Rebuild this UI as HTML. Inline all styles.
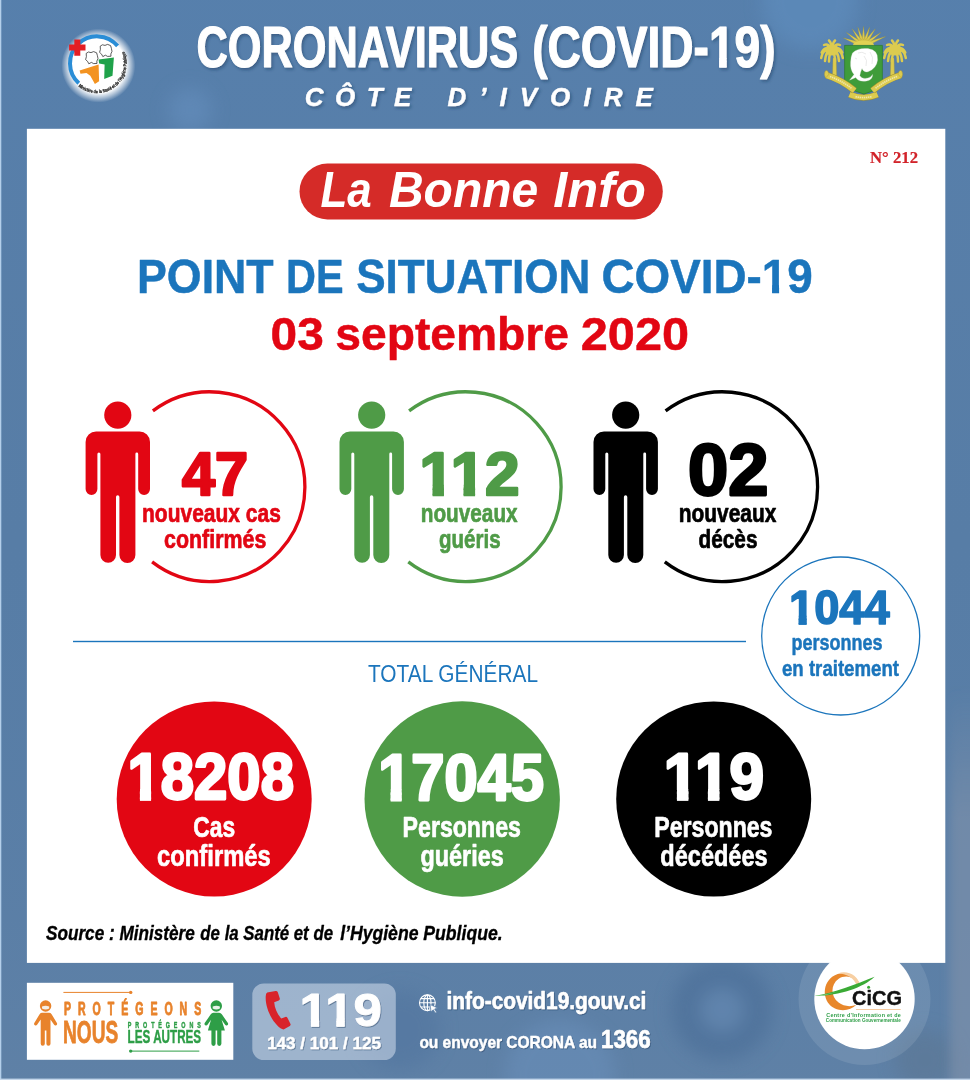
<!DOCTYPE html>
<html lang="fr">
<head>
<meta charset="utf-8">
<title>Coronavirus (COVID-19) – Côte d’Ivoire – Point de situation</title>
<style>
html,body{margin:0;padding:0;background:#577da6;}
body{width:970px;height:1080px;overflow:hidden;font-family:"Liberation Sans", "DejaVu Sans", sans-serif;}
svg{display:block;}
text{white-space:pre;}
</style>
</head>
<body>
<svg width="970" height="1080" viewBox="0 0 970 1080">
<defs>
<linearGradient id="bgv" x1="0" y1="0" x2="0" y2="1">
<stop offset="0" stop-color="#5681b0" stop-opacity="0.6"/>
<stop offset="0.5" stop-color="#5a80ab" stop-opacity="0"/>
<stop offset="1" stop-color="#6684a6" stop-opacity="0.5"/>
</linearGradient>
<linearGradient id="rgm" x1="0" y1="0" x2="0" y2="1">
<stop offset="0" stop-color="#8393aa" stop-opacity="0"/>
<stop offset="0.3" stop-color="#8393aa" stop-opacity="0.55"/>
<stop offset="1" stop-color="#8393aa" stop-opacity="0.55"/>
</linearGradient>
<radialGradient id="glow">
<stop offset="0" stop-color="#ffffff"/>
<stop offset="0.74" stop-color="#ffffff"/>
<stop offset="0.86" stop-color="#ffffff" stop-opacity="0.55"/>
<stop offset="1" stop-color="#ffffff" stop-opacity="0"/>
</radialGradient>
<filter id="ts" x="-5%" y="-20%" width="110%" height="150%">
<feDropShadow dx="1.5" dy="2" stdDeviation="1.5" flood-color="#1d3557" flood-opacity="0.45"/>
</filter>
<filter id="ts2" x="-5%" y="-20%" width="110%" height="150%">
<feDropShadow dx="0.8" dy="1" stdDeviation="0.6" flood-color="#1d3557" flood-opacity="0.45"/>
</filter>
<clipPath id="cf0"><path clip-rule="evenodd" d="M0 0H970V1080H0Z M710.25 58.9H719.15V68.5H710.25Z M726.6 58.9H734.75V68.5H726.6Z"/></clipPath>
<clipPath id="cf1"><path clip-rule="evenodd" d="M0 0H970V1080H0Z M763.5 286.15H772.15V294.0H763.5Z M779.1 286.15H787.25V294.0H779.1Z"/></clipPath>
<clipPath id="cf2"><path clip-rule="evenodd" d="M0 0H970V1080H0Z M421.25 485.65H432.65V497.0H421.25Z M443.85 485.65H453.25V497.0H443.85Z M453.25 485.65H463.65V497.0H453.25Z M475.1 485.65H485.75V497.0H475.1Z"/></clipPath>
<clipPath id="cf3"><path clip-rule="evenodd" d="M0 0H970V1080H0Z M790.0 616.65H798.65V625.75H790.0Z M806.6 616.65H814.75V625.75H806.6Z"/></clipPath>
<clipPath id="cf4"><path clip-rule="evenodd" d="M0 0H970V1080H0Z M129.0 789.9H139.9V801.75H129.0Z M151.1 789.9H161.25V801.75H151.1Z"/></clipPath>
<clipPath id="cf5"><path clip-rule="evenodd" d="M0 0H970V1080H0Z M379.5 790.15H390.65V802.0H379.5Z M401.6 790.15H412.0V802.0H401.6Z"/></clipPath>
<clipPath id="cf6"><path clip-rule="evenodd" d="M0 0H970V1080H0Z M665.25 789.9H676.9V801.75H665.25Z M688.35 789.9H697.6V801.75H688.35Z M697.6 789.9H707.9V801.75H697.6Z M719.35 789.9H730.0V801.75H719.35Z"/></clipPath>
<clipPath id="cf7"><path clip-rule="evenodd" d="M0 0H970V1080H0Z M301.25 1019.4H310.9V1027.75H301.25Z M319.1 1019.4H326.9V1027.75H319.1Z M326.9 1019.4H336.4V1027.75H326.9Z M344.6 1019.4H353.5V1027.75H344.6Z"/></clipPath>
<filter id="blur5" x="-100%" y="-10%" width="300%" height="120%"><feGaussianBlur stdDeviation="5"/></filter>
<filter id="blur8" x="-50%" y="-50%" width="200%" height="200%"><feGaussianBlur stdDeviation="9"/></filter>
</defs>
<rect width="970" height="1080" fill="#577da6"/>
<rect width="970" height="1080" fill="url(#bgv)"/>
<g filter="url(#blur8)" opacity="0.55"><circle cx="722" cy="1010" r="50" fill="#466a94"/><circle cx="722" cy="1010" r="22" fill="#6388b3"/><circle cx="560" cy="1075" r="55" fill="#6a90bb"/><circle cx="925" cy="1060" r="30" fill="#5c7692"/><circle cx="400" cy="1030" r="40" fill="#51759f"/><circle cx="190" cy="110" r="22" fill="#6690bf"/><circle cx="810" cy="2" r="48" fill="#6190c1"/></g>
<rect x="950" y="690" width="40" height="420" fill="url(#rgm)" filter="url(#blur5)"/>
<rect x="0" y="0" width="1.3" height="1080" fill="#b4cfea"/>
<rect x="0" y="1078.6" width="970" height="2" fill="#c4d6ea"/>
<rect x="26.9" y="128.8" width="918.4" height="834.1" fill="#ffffff"/>
<g filter="url(#ts)">
<text x="196.60" y="67.0" font-family='"Liberation Sans", "DejaVu Sans", sans-serif' font-size="57" font-weight="bold" font-style="normal" fill="#ffffff" textLength="321.62" lengthAdjust="spacingAndGlyphs" stroke="#ffffff" stroke-width="1.2" stroke-linejoin="round">CORONAVIRUS</text>
<g clip-path="url(#cf0)"><text x="532.19" y="67.0" font-family='"Liberation Sans", "DejaVu Sans", sans-serif' font-size="57" font-weight="bold" font-style="normal" fill="#ffffff" textLength="243.40" lengthAdjust="spacingAndGlyphs" stroke="#ffffff" stroke-width="1.2" stroke-linejoin="round">(COVID-19)</text></g><path d="M719.25 58.0H726.5V67.5H719.25Z" fill="#ffffff"/>
<text x="304.76" y="105.6" font-family='"Liberation Sans", "DejaVu Sans", sans-serif' font-size="26" font-weight="bold" font-style="italic" fill="#ffffff" textLength="106.64" lengthAdjust="spacing" stroke="#ffffff" stroke-width="0.4" stroke-linejoin="round">CÔTE</text>
<text x="447.40" y="105.6" font-family='"Liberation Sans", "DejaVu Sans", sans-serif' font-size="26" font-weight="bold" font-style="italic" fill="#ffffff" textLength="205.40" lengthAdjust="spacing" stroke="#ffffff" stroke-width="0.4" stroke-linejoin="round">D’IVOIRE</text>
</g>
<text x="870.00" y="163.0" font-family='"Liberation Serif", "DejaVu Serif", serif' font-size="17.3" font-weight="bold" font-style="normal" fill="#d2232a" textLength="48.01" lengthAdjust="spacingAndGlyphs" stroke="#d2232a" stroke-width="0.2" stroke-linejoin="round">N° 212</text>
<rect x="299.5" y="163.6" width="363.3" height="55.9" rx="27.95" fill="#d52b28"/>
<text x="320.40" y="207.1" font-family='"Liberation Sans", "DejaVu Sans", sans-serif' font-size="50" font-weight="bold" font-style="italic" fill="#ffffff" textLength="51.37" lengthAdjust="spacingAndGlyphs">La</text>
<text x="388.93" y="207.1" font-family='"Liberation Sans", "DejaVu Sans", sans-serif' font-size="50" font-weight="bold" font-style="italic" fill="#ffffff" textLength="149.29" lengthAdjust="spacingAndGlyphs">Bonne</text>
<text x="553.34" y="207.1" font-family='"Liberation Sans", "DejaVu Sans", sans-serif' font-size="50" font-weight="bold" font-style="italic" fill="#ffffff" textLength="92.62" lengthAdjust="spacingAndGlyphs">Info</text>
<text x="137.05" y="292.7" font-family='"Liberation Sans", "DejaVu Sans", sans-serif' font-size="48" font-weight="bold" font-style="normal" fill="#1b75bc" textLength="136.60" lengthAdjust="spacingAndGlyphs" stroke="#1b75bc" stroke-width="0.5" stroke-linejoin="round">POINT</text>
<text x="286.00" y="292.7" font-family='"Liberation Sans", "DejaVu Sans", sans-serif' font-size="48" font-weight="bold" font-style="normal" fill="#1b75bc" textLength="57.59" lengthAdjust="spacingAndGlyphs" stroke="#1b75bc" stroke-width="0.5" stroke-linejoin="round">DE</text>
<text x="356.20" y="292.7" font-family='"Liberation Sans", "DejaVu Sans", sans-serif' font-size="48" font-weight="bold" font-style="normal" fill="#1b75bc" textLength="234.24" lengthAdjust="spacingAndGlyphs" stroke="#1b75bc" stroke-width="0.5" stroke-linejoin="round">SITUATION</text>
<g clip-path="url(#cf1)"><text x="601.42" y="292.7" font-family='"Liberation Sans", "DejaVu Sans", sans-serif' font-size="48" font-weight="bold" font-style="normal" fill="#1b75bc" textLength="211.42" lengthAdjust="spacingAndGlyphs" stroke="#1b75bc" stroke-width="0.5" stroke-linejoin="round">COVID-19</text></g><path d="M772.25 285.25H779.0V293.0H772.25Z" fill="#1b75bc"/>
<text x="270.60" y="349.5" font-family='"Liberation Sans", "DejaVu Sans", sans-serif' font-size="46" font-weight="bold" font-style="normal" fill="#e20613" textLength="53.18" lengthAdjust="spacingAndGlyphs" stroke="#e20613" stroke-width="0.5" stroke-linejoin="round">03</text>
<text x="335.28" y="349.5" font-family='"Liberation Sans", "DejaVu Sans", sans-serif' font-size="46" font-weight="bold" font-style="normal" fill="#e20613" textLength="233.75" lengthAdjust="spacingAndGlyphs" stroke="#e20613" stroke-width="0.5" stroke-linejoin="round">septembre</text>
<text x="580.80" y="349.5" font-family='"Liberation Sans", "DejaVu Sans", sans-serif' font-size="46" font-weight="bold" font-style="normal" fill="#e20613" textLength="108.23" lengthAdjust="spacingAndGlyphs" stroke="#e20613" stroke-width="0.5" stroke-linejoin="round">2020</text>
<circle cx="98.4" cy="65.6" r="37" fill="url(#glow)"/>
<path d="M117.6 45.9 A27 27 0 1 0 78.8 83.3" fill="none" stroke="#2a8dd6" stroke-width="4.0" />
<path d="M74.3 39.4h6v5.2h5.2v6h-5.2v5.2h-6v-5.2h-5.2v-6h5.2z" fill="#e31e24"/>
<path d="M79.6 70.6 L98.6 64.5 L99.1 81.2 L94.9 84 L90.3 75.7 L86.5 72.9 L80.5 73.8 Z" fill="#f39321"/>
<path d="M98.6 59.4 L113.9 57.6 L112.5 75.7 L104.2 78.9 L104.6 64.5 L99.1 63.6 Z" fill="#1fa24a"/>
<path d="M86.2 53.4 L88.4 52 L91 52.6 L93.6 51.6 L96.6 52.8 L97.4 55.6 L98 58.6 L96.8 61.2 L97 63.4 L93.6 63.6 L91.4 62.4 L88.8 63.8 L87.6 61.4 L85.6 59.6 L86.4 56.6 Z" fill="#ffffff" stroke="#1a1a1a" stroke-width="0.7" stroke-linejoin="round"/>
<path d="M86.2 53.4 L88.4 52 L91 52.6 L93.6 51.6 L96.6 52.8 L97.4 55.6 L98 58.6 L96.8 61.2 L97 63.4 L93.6 63.6 L91.4 62.4 L88.8 63.8 L87.6 61.4 L85.6 59.6 L86.4 56.6 Z" transform="translate(14 -7.2)" fill="#ffffff" stroke="#1a1a1a" stroke-width="0.7" stroke-linejoin="round"/>
<path id="mtp" d="M78.2 86.3 A29.6 29.6 0 0 0 121.4 46.6" fill="none"/>
<text font-family='"Liberation Sans", "DejaVu Sans", sans-serif' font-size="4.7" font-weight="bold" fill="#111" stroke="#111" stroke-width="0.2"><textPath href="#mtp" textLength="79" lengthAdjust="spacingAndGlyphs">Ministère de la Santé et de l’Hygiène Publique</textPath></text>
<path d="M857.8 41.5 L843.4 38.0 L856.6 44.7 Z M860.4 40.9 L846.4 32.4 L858.3 43.6 Z M862.5 40.9 L852.1 28.8 L859.7 42.8 Z M864.0 41.2 L857.8 27.2 L860.7 42.3 Z M865.2 41.7 L863.5 26.4 L861.8 41.7 Z M866.3 42.3 L869.6 27.2 L863.1 41.2 Z M867.4 42.9 L875.3 28.8 L864.6 40.9 Z M868.7 43.6 L881.0 32.4 L866.7 40.9 Z M870.2 44.5 L885.6 36.5 L869.0 41.4 Z" fill="#dccb4f" stroke="#a39130" stroke-width="0.3"/>
<path d="M852.8 45.6 A10.7 5.4 0 0 1 874.2 45.6 Z" fill="#e2d153"/>
<path d="M833.0 58 L836.2 58 L836.7 77 L832.5 77 Z" fill="#dccb4f" stroke="#a39130" stroke-width="0.35"/>
<path d="M832 51 Q823.5 47.0 821.2 58.0 M832 51 Q825.5 44.5 821.7 52.5 M832 51 Q829.0 42.5 824.0 45.0 M832 51 Q832.0 43.5 829.0 40.5 M832 51 Q832.0 43.5 835.0 40.5 M832 51 Q835.0 42.5 840.0 45.0 M832 51 Q838.5 44.5 842.3 52.5 M832 51 Q840.5 47.0 842.8 58.0 M832 51 Q825.5 51.0 825.0 61.0 M832 51 Q838.5 51.0 839.0 61.0 M832 51 Q829.0 53.0 829.0 61.5 M832 51 Q835.0 53.0 835.0 61.5" fill="none" stroke="#dccb4f" stroke-width="2.5" stroke-linecap="round"/>
<ellipse cx="832" cy="50" rx="7" ry="5.5" fill="#dccb4f"/>
<path d="M890.8 58 L894.0 58 L894.5 77 L890.3 77 Z" fill="#dccb4f" stroke="#a39130" stroke-width="0.35"/>
<path d="M895 51 Q886.5 47.0 884.2 58.0 M895 51 Q888.5 44.5 884.7 52.5 M895 51 Q892.0 42.5 887.0 45.0 M895 51 Q895.0 43.5 892.0 40.5 M895 51 Q895.0 43.5 898.0 40.5 M895 51 Q898.0 42.5 903.0 45.0 M895 51 Q901.5 44.5 905.3 52.5 M895 51 Q903.5 47.0 905.8 58.0 M895 51 Q888.5 51.0 888.0 61.0 M895 51 Q901.5 51.0 902.0 61.0 M895 51 Q892.0 53.0 892.0 61.5 M895 51 Q898.0 53.0 898.0 61.5" fill="none" stroke="#dccb4f" stroke-width="2.5" stroke-linecap="round"/>
<ellipse cx="895" cy="50" rx="7" ry="5.5" fill="#dccb4f"/>
<g fill="none" stroke-linecap="butt"><path d="M849.5 94.6 Q863.5 100.6 877.5 94.6" stroke="#a39130" stroke-width="6.4"/><path d="M849.5 94.6 Q863.5 100.6 877.5 94.6" stroke="#dccb4f" stroke-width="5.4"/><path d="M855.5 96.6 Q863.5 98.6 871.5 96.6" stroke="#efe6ad" stroke-width="1.6" stroke-dasharray="1.4 0.7"/></g>
<path d="M844.6 45.4 H882.4 V84 Q882 88.5 864 94 Q845 88.5 844.6 84 Z" fill="#3f9c3a" stroke="#2d7a2c" stroke-width="0.7"/>
<g fill="none" stroke-linecap="butt"><path d="M826.4 75.2 Q841 79.5 854.6 90.6" stroke="#a39130" stroke-width="6.6"/><path d="M826.4 75.2 Q841 79.5 854.6 90.6" stroke="#dccb4f" stroke-width="5.6"/><path d="M900.6 75.2 Q886 79.5 872.4 90.6" stroke="#a39130" stroke-width="6.6"/><path d="M900.6 75.2 Q886 79.5 872.4 90.6" stroke="#dccb4f" stroke-width="5.6"/><path d="M830 76.6 Q841.5 80.6 851.5 88.2 M897 76.6 Q885.5 80.6 875.5 88.2" stroke="#efe6ad" stroke-width="1.6" stroke-dasharray="1.4 0.7"/></g>
<path d="M825.6 78 Q823.4 74.5 825.2 71 Q826.6 69.6 828 71.4 L829 74.2 Z M901.4 78 Q903.6 74.5 901.8 71 Q900.4 69.6 899 71.4 L898 74.2 Z" fill="#dccb4f" stroke="#a39130" stroke-width="0.4"/>
<path d="M852.5 53 Q858 47.5 868 48.6 Q878.5 50 877.6 60 Q876.6 68.5 868 71.8 Q863.5 72.5 862 68.5 Q860.5 72 859.8 75.5 Q862 79.5 868 78 Q871.5 76.8 872.6 74.4 Q872.8 79.5 866.6 81 Q858 82 855.8 77.5 L849.5 80.2 L854 74.5 Q850 70 850.6 62 Q850.8 56.5 852.5 53 Z" fill="#ffffff" stroke="#d8d8d8" stroke-width="0.3"/>
<path d="M858 53 Q862 51 866 54 M864 56 Q868 60 866 66 M870 52 Q874 57 872 64 M855 58 L857 59" fill="none" stroke="#c9c9c9" stroke-width="0.4"/>
<g fill="#e20613" transform="translate(0 0)"><circle cx="117.8" cy="415.1" r="13.6"/><path d="M96.1 431.5 H139.5 A10.5 10.5 0 0 1 150 442 V489 A5.9 5.9 0 0 1 138.2 489 V454 A1.4 1.4 0 0 0 135.4 454 V555 A8 8 0 0 1 119.4 555 V497 A1.7 1.7 0 0 0 116 497 V555 A7.8 7.8 0 0 1 100.4 555 V454 A1.5 1.5 0 0 0 97.4 454 V489 A5.9 5.9 0 0 1 85.6 489 V442 A10.5 10.5 0 0 1 96.1 431.5 Z"/></g>
<g fill="#4f9b47" transform="translate(253.9 0)"><circle cx="117.8" cy="415.1" r="13.6"/><path d="M96.1 431.5 H139.5 A10.5 10.5 0 0 1 150 442 V489 A5.9 5.9 0 0 1 138.2 489 V454 A1.4 1.4 0 0 0 135.4 454 V555 A8 8 0 0 1 119.4 555 V497 A1.7 1.7 0 0 0 116 497 V555 A7.8 7.8 0 0 1 100.4 555 V454 A1.5 1.5 0 0 0 97.4 454 V489 A5.9 5.9 0 0 1 85.6 489 V442 A10.5 10.5 0 0 1 96.1 431.5 Z"/></g>
<g fill="#000000" transform="translate(507.9 0)"><circle cx="117.8" cy="415.1" r="13.6"/><path d="M96.1 431.5 H139.5 A10.5 10.5 0 0 1 150 442 V489 A5.9 5.9 0 0 1 138.2 489 V454 A1.4 1.4 0 0 0 135.4 454 V555 A8 8 0 0 1 119.4 555 V497 A1.7 1.7 0 0 0 116 497 V555 A7.8 7.8 0 0 1 100.4 555 V454 A1.5 1.5 0 0 0 97.4 454 V489 A5.9 5.9 0 0 1 85.6 489 V442 A10.5 10.5 0 0 1 96.1 431.5 Z"/></g>
<path d="M152.9 410.9 A94.9 94.9 0 1 1 152.1 561.9" fill="none" stroke="#e20613" stroke-width="3.3" />
<path d="M409.1 410.9 A94.9 94.9 0 1 1 408.3 561.9" fill="none" stroke="#4f9b47" stroke-width="3.3" />
<path d="M665.6 410.9 A94.9 94.9 0 1 1 664.8 561.9" fill="none" stroke="#000000" stroke-width="3.3" />
<text x="181.90" y="494.7" font-family='"Liberation Sans", "DejaVu Sans", sans-serif' font-size="61.6" font-weight="bold" font-style="normal" fill="#e20613" textLength="66.10" lengthAdjust="spacingAndGlyphs" stroke="#e20613" stroke-width="2.6" stroke-linejoin="round">47</text>
<text x="142.00" y="521.7" font-family='"Liberation Sans", "DejaVu Sans", sans-serif' font-size="26" font-weight="bold" font-style="normal" fill="#e20613" textLength="138.81" lengthAdjust="spacingAndGlyphs" stroke="#e20613" stroke-width="0.7" stroke-linejoin="round">nouveaux cas</text>
<text x="164.09" y="547.9" font-family='"Liberation Sans", "DejaVu Sans", sans-serif' font-size="26" font-weight="bold" font-style="normal" fill="#e20613" textLength="102.23" lengthAdjust="spacingAndGlyphs" stroke="#e20613" stroke-width="0.7" stroke-linejoin="round">confirmés</text>
<g clip-path="url(#cf2)"><text x="419.60" y="494.7" font-family='"Liberation Sans", "DejaVu Sans", sans-serif' font-size="61.6" font-weight="bold" font-style="normal" fill="#4f9b47" textLength="100.00" lengthAdjust="spacingAndGlyphs" stroke="#4f9b47" stroke-width="2.6" stroke-linejoin="round">112</text></g><path d="M432.75 484.75H443.75V496.0H432.75Z M463.75 484.75H475.0V496.0H463.75Z" fill="#4f9b47"/>
<text x="420.75" y="521.7" font-family='"Liberation Sans", "DejaVu Sans", sans-serif' font-size="26" font-weight="bold" font-style="normal" fill="#4f9b47" textLength="96.86" lengthAdjust="spacingAndGlyphs" stroke="#4f9b47" stroke-width="0.7" stroke-linejoin="round">nouveaux</text>
<text x="439.06" y="547.6" font-family='"Liberation Sans", "DejaVu Sans", sans-serif' font-size="26" font-weight="bold" font-style="normal" fill="#4f9b47" textLength="61.48" lengthAdjust="spacingAndGlyphs" stroke="#4f9b47" stroke-width="0.7" stroke-linejoin="round">guéris</text>
<text x="688.04" y="495.1" font-family='"Liberation Sans", "DejaVu Sans", sans-serif' font-size="72" font-weight="bold" font-style="normal" fill="#000000" textLength="80.40" lengthAdjust="spacingAndGlyphs" stroke="#000000" stroke-width="2.8" stroke-linejoin="round">02</text>
<text x="678.80" y="521.7" font-family='"Liberation Sans", "DejaVu Sans", sans-serif' font-size="26" font-weight="bold" font-style="normal" fill="#000000" textLength="97.56" lengthAdjust="spacingAndGlyphs" stroke="#000000" stroke-width="0.7" stroke-linejoin="round">nouveaux</text>
<text x="698.57" y="547.9" font-family='"Liberation Sans", "DejaVu Sans", sans-serif' font-size="26" font-weight="bold" font-style="normal" fill="#000000" textLength="58.87" lengthAdjust="spacingAndGlyphs" stroke="#000000" stroke-width="0.7" stroke-linejoin="round">décès</text>
<rect x="73" y="640.8" width="673" height="1.4" fill="#1b75bc"/>
<text x="368.00" y="682.0" font-family='"Liberation Sans", "DejaVu Sans", sans-serif' font-size="24.7" font-weight="normal" font-style="normal" fill="#1b75bc" textLength="170.00" lengthAdjust="spacingAndGlyphs">TOTAL GÉNÉRAL</text>
<circle cx="840.7" cy="636" r="79" fill="#ffffff" stroke="#1b75bc" stroke-width="1.3"/>
<g clip-path="url(#cf3)"><text x="789.00" y="624.0" font-family='"Liberation Sans", "DejaVu Sans", sans-serif' font-size="47.8" font-weight="bold" font-style="normal" fill="#1b75bc" textLength="100.70" lengthAdjust="spacingAndGlyphs" stroke="#1b75bc" stroke-width="1.6" stroke-linejoin="round">1044</text></g><path d="M798.75 615.75H806.5V624.75H798.75Z" fill="#1b75bc"/>
<text x="791.50" y="650.3" font-family='"Liberation Sans", "DejaVu Sans", sans-serif' font-size="22.2" font-weight="bold" font-style="normal" fill="#1b75bc" textLength="90.96" lengthAdjust="spacingAndGlyphs" stroke="#1b75bc" stroke-width="0.5" stroke-linejoin="round">personnes</text>
<text x="782.00" y="676.4" font-family='"Liberation Sans", "DejaVu Sans", sans-serif' font-size="22.2" font-weight="bold" font-style="normal" fill="#1b75bc" textLength="117.00" lengthAdjust="spacingAndGlyphs" stroke="#1b75bc" stroke-width="0.5" stroke-linejoin="round">en traitement</text>
<circle cx="214.2" cy="799" r="97.5" fill="#e20613"/>
<circle cx="462.2" cy="799" r="97.7" fill="#4f9b47"/>
<circle cx="713.7" cy="799" r="97.5" fill="#000000"/>
<g clip-path="url(#cf4)"><text x="127.43" y="799.4" font-family='"Liberation Sans", "DejaVu Sans", sans-serif' font-size="64.2" font-weight="bold" font-style="normal" fill="#ffffff" textLength="166.52" lengthAdjust="spacingAndGlyphs" stroke="#ffffff" stroke-width="2.8" stroke-linejoin="round">18208</text></g><path d="M140.0 789.0H151.0V800.75H140.0Z" fill="#ffffff"/>
<text x="193.35" y="836.9" font-family='"Liberation Sans", "DejaVu Sans", sans-serif' font-size="29.5" font-weight="bold" font-style="normal" fill="#ffffff" textLength="41.82" lengthAdjust="spacingAndGlyphs" stroke="#ffffff" stroke-width="0.7" stroke-linejoin="round">Cas</text>
<text x="157.10" y="866.4" font-family='"Liberation Sans", "DejaVu Sans", sans-serif' font-size="29.5" font-weight="bold" font-style="normal" fill="#ffffff" textLength="113.66" lengthAdjust="spacingAndGlyphs" stroke="#ffffff" stroke-width="0.7" stroke-linejoin="round">confirmés</text>
<g clip-path="url(#cf5)"><text x="378.14" y="799.7" font-family='"Liberation Sans", "DejaVu Sans", sans-serif' font-size="64.2" font-weight="bold" font-style="normal" fill="#ffffff" textLength="165.81" lengthAdjust="spacingAndGlyphs" stroke="#ffffff" stroke-width="2.8" stroke-linejoin="round">17045</text></g><path d="M390.75 789.25H401.5V801.0H390.75Z" fill="#ffffff"/>
<text x="402.60" y="836.9" font-family='"Liberation Sans", "DejaVu Sans", sans-serif' font-size="29.5" font-weight="bold" font-style="normal" fill="#ffffff" textLength="118.26" lengthAdjust="spacingAndGlyphs" stroke="#ffffff" stroke-width="0.7" stroke-linejoin="round">Personnes</text>
<text x="420.46" y="866.2" font-family='"Liberation Sans", "DejaVu Sans", sans-serif' font-size="29.5" font-weight="bold" font-style="normal" fill="#ffffff" textLength="83.24" lengthAdjust="spacingAndGlyphs" stroke="#ffffff" stroke-width="0.7" stroke-linejoin="round">guéries</text>
<g clip-path="url(#cf6)"><text x="663.80" y="799.4" font-family='"Liberation Sans", "DejaVu Sans", sans-serif' font-size="64.2" font-weight="bold" font-style="normal" fill="#ffffff" textLength="100.10" lengthAdjust="spacingAndGlyphs" stroke="#ffffff" stroke-width="2.8" stroke-linejoin="round">119</text></g><path d="M677.0 789.0H688.25V800.75H677.0Z M708.0 789.0H719.25V800.75H708.0Z" fill="#ffffff"/>
<text x="654.36" y="836.6" font-family='"Liberation Sans", "DejaVu Sans", sans-serif' font-size="29.5" font-weight="bold" font-style="normal" fill="#ffffff" textLength="118.09" lengthAdjust="spacingAndGlyphs" stroke="#ffffff" stroke-width="0.7" stroke-linejoin="round">Personnes</text>
<text x="660.33" y="866.2" font-family='"Liberation Sans", "DejaVu Sans", sans-serif' font-size="29.5" font-weight="bold" font-style="normal" fill="#ffffff" textLength="107.32" lengthAdjust="spacingAndGlyphs" stroke="#ffffff" stroke-width="0.7" stroke-linejoin="round">décédées</text>
<text x="46.05" y="939.7" font-family='"Liberation Sans", "DejaVu Sans", sans-serif' font-size="19.5" font-weight="bold" font-style="italic" fill="#000000" textLength="148.70" lengthAdjust="spacingAndGlyphs" stroke="#000000" stroke-width="0.35" stroke-linejoin="round">Source : Ministère</text>
<text x="200.35" y="939.7" font-family='"Liberation Sans", "DejaVu Sans", sans-serif' font-size="19.5" font-weight="bold" font-style="italic" fill="#000000" textLength="132.65" lengthAdjust="spacingAndGlyphs" stroke="#000000" stroke-width="0.35" stroke-linejoin="round">de la Santé et de</text>
<text x="340.16" y="939.7" font-family='"Liberation Sans", "DejaVu Sans", sans-serif' font-size="19.5" font-weight="bold" font-style="italic" fill="#000000" textLength="162.44" lengthAdjust="spacingAndGlyphs" stroke="#000000" stroke-width="0.35" stroke-linejoin="round">l’Hygiène Publique.</text>
<rect x="26.9" y="982.8" width="206.4" height="77" fill="#ffffff"/>
<rect x="63.4" y="991.9" width="67" height="1" fill="#e8832c"/><circle cx="130.7" cy="992.4" r="1.7" fill="#e8832c"/>
<rect x="131" y="1050.6" width="68.3" height="1" fill="#2e9e47"/><circle cx="130.7" cy="1051.1" r="1.7" fill="#2e9e47"/>
<text transform="translate(64.00 1014.9) scale(0.6 1)" x="0" y="0" font-family='"Liberation Sans", "DejaVu Sans", sans-serif' font-size="17.6" font-weight="bold" font-style="normal" fill="#e8832c" textLength="228.67" lengthAdjust="spacing" stroke="#e8832c" stroke-width="0.9" stroke-linejoin="round">PROTÉGEONS</text>
<text x="63.00" y="1043.3" font-family='"Liberation Sans", "DejaVu Sans", sans-serif' font-size="32" font-weight="bold" font-style="normal" fill="#e8832c" textLength="55.28" lengthAdjust="spacingAndGlyphs" stroke="#e8832c" stroke-width="0.8" stroke-linejoin="round">NOUS</text>
<text transform="translate(127.80 1027.5) scale(0.6 1)" x="0" y="0" font-family='"Liberation Sans", "DejaVu Sans", sans-serif' font-size="9" font-weight="bold" font-style="normal" fill="#2e9e47" textLength="121.67" lengthAdjust="spacing" stroke="#2e9e47" stroke-width="0.45" stroke-linejoin="round">PROTÉGEONS</text>
<text x="127.60" y="1042.7" font-family='"Liberation Sans", "DejaVu Sans", sans-serif' font-size="17.8" font-weight="bold" font-style="normal" fill="#2e9e47" textLength="73.57" lengthAdjust="spacingAndGlyphs" stroke="#2e9e47" stroke-width="0.4" stroke-linejoin="round">LES AUTRES</text>
<g fill="#e8832c"><circle cx="45.6" cy="1006" r="5.7"/><path d="M42.2 1012.8 H49 Q50.6 1012.8 51.6 1014.2 L56.9 1023 Q57.6 1024.4 56.3 1025.3 Q55 1026 54.1 1024.8 L50.5 1019.4 V1043.8 A2.05 2.05 0 0 1 46.4 1043.8 V1030.4 H44.8 V1043.8 A2.05 2.05 0 0 1 40.7 1043.8 V1019.4 L37.1 1024.8 Q36.2 1026 34.9 1025.3 Q33.6 1024.4 34.3 1023 L39.6 1014.2 Q40.6 1012.8 42.2 1012.8 Z"/></g>
<path d="M42 1006.4 Q45.6 1005 49.2 1006.4 V1008.4 Q45.6 1010.6 42 1008.4 Z" fill="#f4efe8"/>
<g fill="#2e9e47"><circle cx="216.3" cy="1006" r="5.7"/><path d="M213.4 1012.8 H219.2 Q220.9 1012.8 221.8 1014.3 L227.9 1023 Q228.6 1024.4 227.3 1025.3 Q226 1026 225.1 1024.8 L221.6 1019.8 L224.9 1030.4 H221.4 V1043.8 A2.1 2.1 0 0 1 217.2 1043.8 V1030.4 H215.6 V1043.8 A2.1 2.1 0 0 1 211.4 1043.8 V1030.4 H207.9 L211 1019.8 L207.5 1024.8 Q206.6 1026 205.3 1025.3 Q204 1024.4 204.7 1023 L210.8 1014.3 Q211.7 1012.8 213.4 1012.8 Z"/></g>
<path d="M212.7 1006.4 Q216.3 1005 219.9 1006.4 V1008.4 Q216.3 1010.6 212.7 1008.4 Z" fill="#e9f3ea"/>
<rect x="252.3" y="983.5" width="143.5" height="76.5" rx="11.5" fill="#f2f7ff" fill-opacity="0.44"/>
<path d="M267.2 992.6 L275.6 990.9 Q277.2 990.7 277.8 992.2 L279.8 998.6 Q280.1 999.9 278.8 1000.5 L274.2 1002.3 C274.6 1008 277.2 1014.2 281.2 1018.4 L285.4 1016.9 Q286.7 1016.6 287.4 1017.7 L290.5 1023.9 Q291 1025.2 289.8 1026 L283.6 1029.4 C277 1028.5 265 1012 265.7 996.5 Q265.8 993.2 267.2 992.6 Z" fill="#d8232a"/>
<g filter="url(#ts2)">
<g clip-path="url(#cf7)"><text x="299.62" y="1026.2" font-family='"Liberation Sans", "DejaVu Sans", sans-serif' font-size="46.5" font-weight="bold" font-style="normal" fill="#ffffff" textLength="82.22" lengthAdjust="spacingAndGlyphs" stroke="#ffffff" stroke-width="0.9" stroke-linejoin="round">119</text></g><path d="M311.0 1018.5H319.0V1026.75H311.0Z M336.5 1018.5H344.5V1026.75H336.5Z" fill="#ffffff"/>
<text x="267.13" y="1049.0" font-family='"Liberation Sans", "DejaVu Sans", sans-serif' font-size="17.2" font-weight="bold" font-style="normal" fill="#ffffff" textLength="113.88" lengthAdjust="spacingAndGlyphs" stroke="#ffffff" stroke-width="0.4" stroke-linejoin="round">143 / 101 / 125</text>
</g>
<g fill="none" stroke="#ffffff" stroke-width="1.1"><circle cx="427.4" cy="1002.8" r="7.9"/><ellipse cx="427.4" cy="1002.8" rx="3.6" ry="7.9"/><path d="M427.4 994.9 V1010.7 M419.5 1002.8 H435.3 M420.8 998.6 H434 M420.8 1007 H434"/></g>
<path d="M430.2 1004.6 L437.6 1008 L434.6 1009 L436.6 1012.2 L435.2 1013 L433.3 1009.8 L431 1011.8 Z" fill="#ffffff" stroke="#577da6" stroke-width="0.7"/>
<g filter="url(#ts2)">
<text x="446.58" y="1009.0" font-family='"Liberation Sans", "DejaVu Sans", sans-serif' font-size="23.3" font-weight="bold" font-style="normal" fill="#ffffff" textLength="199.82" lengthAdjust="spacingAndGlyphs" stroke="#ffffff" stroke-width="0.6" stroke-linejoin="round">info-covid19.gouv.ci</text>
<text x="419.40" y="1048.4" font-family='"Liberation Sans", "DejaVu Sans", sans-serif' font-size="16.6" font-weight="bold" font-style="normal" fill="#ffffff" textLength="177.59" lengthAdjust="spacingAndGlyphs" stroke="#ffffff" stroke-width="0.4" stroke-linejoin="round">ou envoyer CORONA au</text>
<text x="601.00" y="1048.4" font-family='"Liberation Sans", "DejaVu Sans", sans-serif' font-size="26.5" font-weight="bold" font-style="normal" fill="#ffffff" textLength="49.55" lengthAdjust="spacingAndGlyphs" stroke="#ffffff" stroke-width="0.7" stroke-linejoin="round">1366</text>
</g>
<circle cx="864.5" cy="999" r="66" fill="#ffffff" fill-opacity="0.10"/>
<circle cx="864.5" cy="999" r="50.2" fill="#ffffff"/>
<path d="M860.2 986 C858 975 843.5 968.8 832.2 976.8 C821 985.5 823 1003 835 1008.6 C842.5 1011.8 851.5 1010 856.4 1004.8 C850.5 1007.2 843.5 1006.4 838.6 1002.6 C830.4 996.4 830.6 984.6 838.4 979 C846 973.8 856.4 977.4 860.2 986 Z" fill="#e8872b"/>
<path d="M860.2 986 C858 975 847.5 970 838 973.4 C846.5 973.2 854.6 978 857.2 986.6 Z" fill="#f7cfa2"/>
<path d="M814.5 995.9 C834 993.2 856 984.2 874.6 976.8 C863.5 987.6 838 996.4 814.5 995.9 Z" fill="#3aaa35"/>
<path d="M814.5 995.9 C822 995.4 830 993.6 838 991.2 C830 994.6 822 996 814.5 995.9 Z" fill="#ffffff" fill-opacity="0.45"/>
<text x="852.00" y="1004.6" font-family='"Liberation Sans", "DejaVu Sans", sans-serif' font-size="19.5" font-weight="bold" font-style="normal" fill="#111111" textLength="49.96" lengthAdjust="spacingAndGlyphs" stroke="#111111" stroke-width="0.4" stroke-linejoin="round">CiCG</text>
<circle cx="868.6" cy="987.2" r="1.5" fill="#3aaa35"/>
<rect x="856" y="1009" width="44.7" height="0.6" fill="#f0a860"/>
<text x="826.28" y="1016.8" font-family='"Liberation Sans", "DejaVu Sans", sans-serif' font-size="5.4" font-weight="bold" font-style="normal" fill="#2e9e47" textLength="74.51" lengthAdjust="spacing">Centre d’Information et de</text>
<text x="825.85" y="1022.2" font-family='"Liberation Sans", "DejaVu Sans", sans-serif' font-size="4.9" font-weight="bold" font-style="normal" fill="#2e9e47" textLength="74.93" lengthAdjust="spacingAndGlyphs">Communication Gouvernementale</text>
</svg>
</body>
</html>
